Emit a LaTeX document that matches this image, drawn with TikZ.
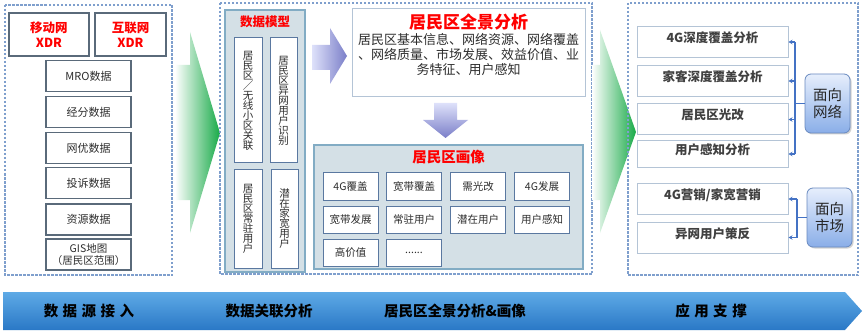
\documentclass[tikz,border=0pt]{standalone}
\usepackage{fontspec}
\setmainfont{Noto Sans CJK SC}
\usepackage{xcolor}
\usepackage{tikz}
\usetikzlibrary{arrows.meta, calc, shadows}
\definecolor{ResRed}{RGB}{255, 0, 0}
\definecolor{ResFrame}{RGB}{127, 159, 205}
\definecolor{ResSrcLine}{RGB}{90, 106, 122}
\definecolor{ResModelFill}{RGB}{212, 224, 230}
\definecolor{ResModelLine}{RGB}{130, 172, 196}
\definecolor{ResTagLine}{RGB}{90, 120, 160}
\definecolor{ResAppLine}{RGB}{180, 196, 214}
\definecolor{ResText}{RGB}{45, 45, 45}
\definecolor{ResAppText}{RGB}{64, 64, 64}
\definecolor{ResGreen}{RGB}{24, 170, 72}
\definecolor{ResLilacLight}{RGB}{222, 225, 250}
\definecolor{ResLilac}{RGB}{122, 126, 200}
\definecolor{ResBus}{RGB}{68, 114, 196}
\definecolor{ResSideTop}{RGB}{230, 238, 252}
\definecolor{ResSideBottom}{RGB}{138, 174, 232}
\definecolor{ResSideLine}{RGB}{105, 138, 192}
\definecolor{ResBarTop}{RGB}{94, 170, 230}
\definecolor{ResBarBottom}{RGB}{42, 120, 198}
\newcommand{\barsp}{\hspace{4.5pt}}

\begin{document}
\begin{tikzpicture}[x=1pt, y=-1pt,
  panel/.style={ResFrame, line width=1.1pt, dash pattern=on 2.5pt off 1.5pt},
  srcbox/.style={draw=ResSrcLine, line width=1.1pt, fill=white, text=ResText, align=center,
    font=\fontsize{11}{12.5}\selectfont, minimum width=85pt, minimum height=31pt, inner sep=1pt},
  xdrbox/.style={srcbox, text=ResRed, font=\fontsize{12.5}{15}\selectfont\bfseries, minimum height=43pt},
  modelbox/.style={draw=ResModelLine, line width=1.1pt, fill=ResModelFill},
  vbox/.style={draw=ResTagLine, line width=1pt, fill=white, text=ResText, align=center,
    font=\fontsize{10.5}{10}\selectfont, inner sep=1pt},
  tagbox/.style={draw=ResTagLine, line width=1pt, fill=white, text=ResText,
    font=\fontsize{10.5}{12}\selectfont, minimum width=55pt, minimum height=27pt, inner sep=1pt},
  appbox/.style={draw=ResAppLine, line width=1pt, fill=white, text=ResAppText,
    font=\fontsize{12.5}{14}\selectfont\bfseries, minimum width=151pt, minimum height=31pt,
    text height=10pt, text depth=9pt, inner sep=1pt},
  sidebox/.style={draw=ResSideLine, line width=0.8pt, rounded corners=6pt,
    top color=ResSideTop, bottom color=ResSideBottom,
    drop shadow={opacity=0.35, shadow xshift=1.5pt, shadow yshift=-1.5pt},
    text=black!85, align=center, font=\fontsize{14.5}{17}\selectfont,
    minimum width=45pt, minimum height=59pt},
  redtitle/.style={text=ResRed, font=\fontsize{12.5}{14}\selectfont\bfseries},
  bus/.style={ResBus, line width=1.6pt},
  busarrow/.style={bus, -{Stealth[length=4pt, width=4.5pt]}},
  bartext/.style={text=black, font=\fontsize{14.5}{16}\selectfont\bfseries}]
  \path[use as bounding box] (0,0) rectangle (865,334);
  \fill[white] (0,0) rectangle (865,334);

  % data sources
  \draw[panel] (5,5) rectangle (172,275);
  \node[xdrbox, minimum width=80pt] (mobilexdr) at (49,34.5) {移动网\\XDR};
  \node[xdrbox, minimum width=71pt] (netxdr) at (130.5,34.5) {互联网\\XDR};
  \node[srcbox] (mro) at (88.5,76) {MRO数据};
  \node[srcbox] (bizdata) at (88.5,112) {经分数据};
  \node[srcbox] (optdata) at (88.5,148) {网优数据};
  \node[srcbox] (complaint) at (88.5,183) {投诉数据};
  \node[srcbox] (resdata) at (88.5,219.5) {资源数据};
  \node[srcbox, font=\fontsize{10.5}{12.5}\selectfont] (gismap) at (88.5,254.5) {GIS地图\\（居民区范围）};
  \shade[left color=white, right color=ResGreen]
    (175,65) -- (190,65) -- (190,32) -- (220,133) -- (190,233) -- (190,200) -- (175,200) -- cycle;

  % model, panorama and portrait
  \draw[panel] (220,3) rectangle (592,274);
  \node[modelbox, minimum width=80pt, minimum height=262pt] (model) at (265,141) {};
  \node[redtitle] (modeltitle) at (265,22) {数据模型};
  \node[vbox, minimum width=28pt, minimum height=125pt] (cellrel) at (248,100.5)
    {居\\民\\区\\／\\无\\线\\小\\区\\关\\联};
  \node[vbox, minimum width=27pt, minimum height=125pt] (rivaluser) at (283.5,100.5)
    {居\\民\\区\\异\\网\\用\\户\\识\\别};
  \node[vbox, minimum width=28pt, minimum height=98pt] (residentuser) at (248,219)
    {居\\民\\区\\常\\驻\\用\\户};
  \node[vbox, minimum width=27pt, minimum height=98pt] (homeuser) at (284.5,219)
    {潜\\在\\家\\宽\\用\\户};
  \shade[left color=ResLilacLight, right color=ResLilac]
    (312,45) -- (330,45) -- (330,28) -- (347,56) -- (330,84) -- (330,70) -- (312,70) -- cycle;
  \node[draw=ResAppLine, line width=1pt, fill=white, minimum width=233pt, minimum height=88pt] (pano) at (468.5,53) {};
  \node[text=ResRed, font=\fontsize{17}{19}\selectfont\bfseries] (panotitle) at (468.5,22) {居民区全景分析};
  \node[text=ResText, align=center, font=\fontsize{13}{15}\selectfont] (panotext) at (468.5,55)
    {居民区基本信息、网络资源、网络覆盖\\、网络质量、市场发展、效益价值、业\\务特征、用户感知};
  \shade[top color=ResLilacLight, bottom color=ResLilac]
    (434,103) -- (457,103) -- (457,120) -- (468,120) -- (445.5,138) -- (423,120) -- (434,120) -- cycle;
  \node[modelbox, minimum width=269pt, minimum height=124pt] (portrait) at (448.5,207) {};
  \node[redtitle, font=\fontsize{14.5}{16}\selectfont\bfseries] (portraittitle) at (448.5,157) {居民区画像};
  \node[tagbox] (cover4g) at (350.5,186.5) {4G覆盖};
  \node[tagbox] (coverbb) at (414,186.5) {宽带覆盖};
  \node[tagbox] (fiber) at (478,186.5) {需光改};
  \node[tagbox] (grow4g) at (542,186.5) {4G发展};
  \node[tagbox] (growbb) at (350.5,220) {宽带发展};
  \node[tagbox] (resident) at (414,220) {常驻用户};
  \node[tagbox] (potential) at (478,220) {潜在用户};
  \node[tagbox] (perceive) at (542,220) {用户感知};
  \node[tagbox] (highvalue) at (350.5,252.5) {高价值};
  \node[tagbox] (moretags) at (414,252.5) {......};
  \shade[left color=white, right color=ResGreen]
    (592,65) -- (600,65) -- (600,30) -- (636,132) -- (600,233) -- (600,200) -- (592,200) -- cycle;

  % applications
  \draw[panel] (628,3) rectangle (858,275);
  \node[appbox] (deep4g) at (712.5,42) {4G深度覆盖分析};
  \node[appbox] (deephome) at (712.5,81) {家客深度覆盖分析};
  \node[appbox] (fibreno) at (712.5,119.5) {居民区光改};
  \node[appbox, minimum height=27pt] (perception) at (712.5,154) {用户感知分析};
  \node[appbox] (marketing) at (712.5,199) {4G营销/家宽营销};
  \node[appbox] (winback) at (712.5,237.5) {异网用户策反};
  \node[sidebox] (network) at (827.5,103.5) {面向\\网络};
  \node[sidebox] (market) at (829.5,217.5) {面向\\市场};
  \coordinate (netbus) at (795,103.5);
  \coordinate (mktbus) at (797,217.5);
  \draw[bus] (netbus |- deep4g.east) -- (netbus |- perception.east);
  \draw[bus] (network.west) -- (netbus);
  \draw[busarrow] (netbus |- deep4g.east) -- (deep4g.east);
  \draw[busarrow] (netbus |- deephome.east) -- (deephome.east);
  \draw[busarrow] (netbus |- fibreno.east) -- (fibreno.east);
  \draw[busarrow] (netbus |- perception.east) -- (perception.east);
  \draw[bus] (mktbus |- marketing.east) -- (mktbus |- winback.east);
  \draw[bus] (market.west) -- (mktbus);
  \draw[busarrow] (mktbus |- marketing.east) -- (marketing.east);
  \draw[busarrow] (mktbus |- winback.east) -- (winback.east);

  % stage bar
  \shade[top color=ResBarTop, bottom color=ResBarBottom]
    (3,292) -- (845,292) -- (862,311) -- (845,330) -- (3,330) -- cycle;
  \node[bartext] (stagesrc) at (89,311) {数\barsp 据\barsp 源\barsp 接\barsp 入};
  \node[bartext] (stagemodel) at (269,311) {数据关联分析};
  \node[bartext] (stagepano) at (455,311) {居民区全景分析\&画像};
  \node[bartext] (stageapp) at (711,311) {应\barsp 用\barsp 支\barsp 撑};
\end{tikzpicture}
\end{document}
